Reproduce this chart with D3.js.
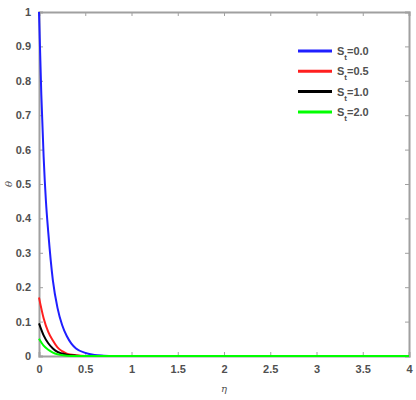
<!DOCTYPE html>
<html>
<head>
<meta charset="utf-8">
<script src="https://cdn.jsdelivr.net/npm/d3@7"></script>
<style>
body{margin:0;background:#fff;}
svg text{font-family:"Liberation Sans",Arial,sans-serif;}
</style>
</head>
<body>
<div id="chart"></div>
<script>
// data
const labels = ['0.0','0.5','1.0','2.0'];
const colors = ['#1f1fff','#ff1f1f','#000000','#00ff00'];
const etaBlue = [0,0.025,0.05,0.075,0.1,0.15,0.2,0.25,0.3,0.35,0.4,0.5,0.6,0.7,0.8,1,2,3,4];
const thetaBlue = [1,0.76,0.58,0.45,0.36,0.22,0.14,0.09,0.058,0.036,0.022,0.009,0.003,0.001,0,0,0,0,0];
const etaRed = [0,0.05,0.1,0.15,0.2,0.25,0.3,0.4,0.5,1,2,3,4];
const thetaRed = [0.17,0.11,0.07,0.045,0.025,0.014,0.007,0.002,0,0,0,0,0];
const etaBlack = [0,0.05,0.1,0.15,0.2,0.3,0.4,0.5,1,2,3,4];
const thetaBlack = [0.095,0.06,0.037,0.022,0.012,0.004,0.001,0,0,0,0,0];
const etaGreen = [0,0.05,0.1,0.15,0.2,0.3,0.4,1,2,3,4];
const thetaGreen = [0.05,0.03,0.018,0.01,0.005,0.001,0,0,0,0,0];
const xTicks = [0,0.5,1,1.5,2,2.5,3,3.5,4];
const yTicks = [0,0.1,0.2,0.3,0.4,0.5,0.6,0.7,0.8,0.9,1];

const series = [
	{eta:etaBlue, theta:thetaBlue},
	{eta:etaRed, theta:thetaRed},
	{eta:etaBlack, theta:thetaBlack},
	{eta:etaGreen, theta:thetaGreen}
].map((s,i) => ({label:labels[i], color:colors[i], pts:s.eta.map((e,j) => [e, s.theta[j]])}));

const width = 416, height = 400;
const margin = {t:12,r:7,b:44,l:39};
const w = width - margin.l - margin.r;
const h = height - margin.t - margin.b;

const svg = d3.select('#chart').append('svg')
	.attr('width',width)
	.attr('height',height);
const plot = svg.append('g')
	.attr('transform',`translate(${margin.l},${margin.t})`);

const scaleX = d3.scaleLinear().domain([0,4]).range([0,w]);
const scaleY = d3.scaleLinear().domain([0,1]).range([h,0]);

const axisColor = '#a0a0a0';
const labelColor = '#505050';

//Axes with inward ticks
const axisX = d3.axisBottom(scaleX).tickValues(xTicks).tickSize(-4).tickPadding(9).tickFormat(d3.format('~g'));
const axisY = d3.axisLeft(scaleY).tickValues(yTicks).tickSize(-4).tickPadding(8).tickFormat(d3.format('~g'));
const axisTop = d3.axisTop(scaleX).tickValues(xTicks).tickSize(-4).tickFormat('');
const axisRight = d3.axisRight(scaleY).tickValues(yTicks).tickSize(-4).tickFormat('');

plot.append('g').attr('class','axis').attr('transform',`translate(0,${h})`).call(axisX);
plot.append('g').attr('class','axis').call(axisY);
plot.append('g').attr('class','axis').call(axisTop);
plot.append('g').attr('class','axis').attr('transform',`translate(${w},0)`).call(axisRight);

plot.selectAll('.axis .domain').attr('stroke',axisColor).attr('stroke-width',2);
plot.selectAll('.axis line').attr('stroke',axisColor);
plot.selectAll('.axis text')
	.attr('fill',labelColor)
	.style('font-size','11px')
	.style('font-weight','bold');

//Curves
const line = d3.line()
	.x(d => scaleX(d[0]))
	.y(d => scaleY(d[1]))
	.curve(d3.curveMonotoneX);

plot.selectAll('.curve')
	.data(series)
	.enter()
	.append('path')
	.attr('class','curve')
	.attr('d', d => line(d.pts))
	.attr('fill','none')
	.attr('stroke', d => d.color)
	.attr('stroke-width',2);

//Legend
const legend = svg.append('g').attr('transform','translate(298,51)');
const item = legend.selectAll('.item')
	.data(series)
	.enter()
	.append('g')
	.attr('transform',(d,i) => `translate(0,${i*20.3})`);
item.append('line')
	.attr('x1',0).attr('x2',34)
	.attr('stroke',d => d.color)
	.attr('stroke-width',3);
const lt = item.append('text')
	.attr('x',39).attr('y',4)
	.attr('fill',labelColor)
	.style('font-size','11px')
	.style('font-weight','bold');
lt.append('tspan').text('S');
lt.append('tspan').attr('dy',5).style('font-size','8px').text('t');
lt.append('tspan').attr('dy',-5).text(d => '=' + d.label);

//Axis titles
svg.append('text')
	.attr('transform',`translate(12,${margin.t + h/2}) rotate(-90)`)
	.attr('text-anchor','middle')
	.attr('fill',labelColor)
	.style('font-family','"DejaVu Serif",serif')
	.style('font-style','italic')
	.style('font-size','10px')
	.text('θ');
svg.append('text')
	.attr('x',margin.l + w/2)
	.attr('y',392)
	.attr('text-anchor','middle')
	.attr('fill',labelColor)
	.style('font-family','"DejaVu Serif",serif')
	.style('font-style','italic')
	.style('font-size','10px')
	.text('η');
</script>
</body>
</html>
